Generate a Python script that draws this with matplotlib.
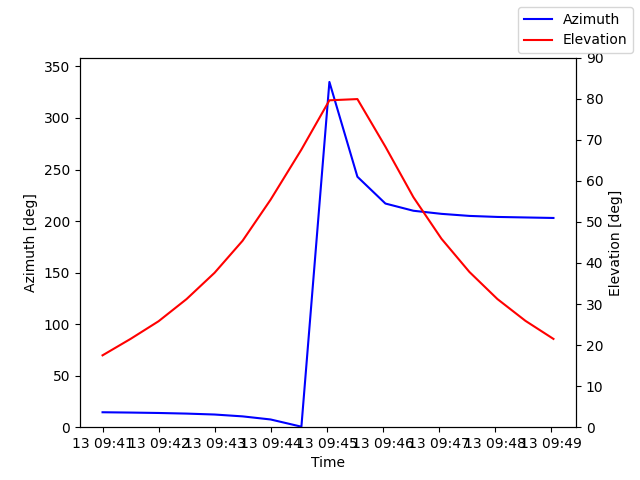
import numpy as np
import pandas as pd
import matplotlib
matplotlib.use("Agg")
import matplotlib.pyplot as plt
import matplotlib.dates as mdates

# sample times (seconds after 09:41:00)
offsets = [0, 30, 60, 90, 120, 150, 180, 213, 243, 273, 303, 333, 363, 393, 423, 453, 483]
times = pd.Timestamp("2024-01-13 09:41:00") + pd.to_timedelta(offsets, unit="s")

azimuth = [14.5, 14.2, 13.8, 13.2, 12.3, 10.5, 7.5, 0.5, 335, 243, 217, 210, 207, 205, 204, 203.5, 203]
elevation = [17.5, 21.5, 25.8, 31.2, 37.6, 45.4, 55.4, 67.6, 79.6, 79.9, 68.3, 56.0, 45.9, 37.8, 31.2, 25.9, 21.5]

fig, ax1 = plt.subplots(figsize=(6.4, 4.8), dpi=100)
ax1.plot(times, azimuth, color="blue", label="Azimuth")
ax1.set_ylim(0, 358.6)
ax1.set_xlabel("Time")
ax1.set_ylabel("Azimuth [deg]")
ax1.xaxis.set_major_locator(mdates.MinuteLocator())
ax1.xaxis.set_major_formatter(mdates.DateFormatter("%d %H:%M"))

ax2 = ax1.twinx()
ax2.plot(times, elevation, color="red", label="Elevation")
ax2.set_ylim(0, 90)
ax2.set_ylabel("Elevation [deg]")

fig.legend(loc="upper right")
fig.savefig("out.png")
